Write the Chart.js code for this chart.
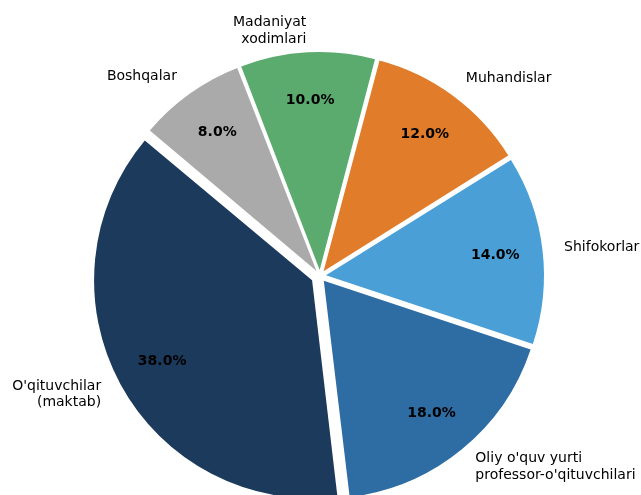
<!DOCTYPE html>
<html>
<head>
<meta charset="utf-8">
<script src="https://cdn.jsdelivr.net/npm/chart.js@4"></script>
<style>
html,body{margin:0;padding:0;background:#fff;}
#c{display:block;}
</style>
</head>
<body>
<canvas id="c" width="641" height="495"></canvas>
<script>
// Categories in drawing order (clockwise from upper-left)
const categories = [
  "Boshqalar",
  "Madaniyat\nxodimlari",
  "Muhandislar",
  "Shifokorlar",
  "Oliy o'quv yurti\nprofessor-o'qituvchilari",
  "O'qituvchilar\n(maktab)"
];
const shares = [8, 10, 12, 14, 18, 38];
const pctLabels = ["8.0%", "10.0%", "12.0%", "14.0%", "18.0%", "38.0%"];
const colors = ["#aaaaaa", "#5aab6d", "#e07c2a", "#4a9fd6", "#2e6ca4", "#1b3a5c"];

const SHIFT = [6, 6, 6, 6, 6, 9]; // explode distance in px
const PIE_R = 218;
const FONT_PX = 14;

// keep every wedge at the same drawn radius despite Chart.js' offset radius growth
const equalRadius = {
  id: 'equalRadius',
  beforeDatasetsDraw(chart) {
    const meta = chart.getDatasetMeta(0);
    meta.data.forEach((arc, i) => {
      const circ = arc.circumference;
      const fix = 1 - Math.sin(Math.min(Math.PI, circ || 0));
      arc.outerRadius = PIE_R - SHIFT[i] * fix;
    });
  }
};

const labelPlugin = {
  id: 'pieLabels',
  afterDatasetsDraw(chart) {
    const ctx = chart.ctx;
    const meta = chart.getDatasetMeta(0);
    meta.data.forEach((arc, i) => {
      const mid = (arc.startAngle + arc.endAngle) / 2;
      const s = SHIFT[i];
      const cx = arc.x + Math.cos(mid) * s;
      const cy = arc.y + Math.sin(mid) * s;
      const R = PIE_R;
      ctx.save();
      ctx.fillStyle = '#000';
      ctx.textBaseline = 'alphabetic';
      // outer category label
      const lx = cx + Math.cos(mid) * R * 1.1;
      const ly = cy + Math.sin(mid) * R * 1.1;
      const lines = chart.data.labels[i].split('\n');
      ctx.font = FONT_PX + 'px "DejaVu Sans"';
      ctx.textAlign = Math.cos(mid) >= 0 ? 'left' : 'right';
      const lh = 16.6;
      const b0 = ly - (lines.length - 1) * lh / 2 + 0.275 * FONT_PX;
      lines.forEach((t, k) => ctx.fillText(t, lx, b0 + k * lh));
      // percentage label
      const px = cx + Math.cos(mid) * R * 0.782;
      const py = cy + Math.sin(mid) * R * 0.782;
      ctx.font = 'bold ' + FONT_PX + 'px "DejaVu Sans"';
      ctx.textAlign = 'center';
      ctx.fillText(pctLabels[i], px, py + 0.275 * FONT_PX);
      ctx.restore();
    });
  }
};

new Chart(document.getElementById('c'), {
  type: 'pie',
  data: {
    labels: categories,
    datasets: [{
      data: shares,
      backgroundColor: colors,
      borderWidth: 0,
      offset: SHIFT.map(v => v * 4),
      clip: false
    }]
  },
  options: {
    responsive: false,
    animation: false,
    rotation: -50,
    radius: PIE_R,
    layout: { padding: { top: 57, bottom: 0, left: 0, right: 1 } },
    plugins: {
      legend: { display: false },
      tooltip: { enabled: false }
    }
  },
  plugins: [equalRadius, labelPlugin]
});
</script>
</body>
</html>
